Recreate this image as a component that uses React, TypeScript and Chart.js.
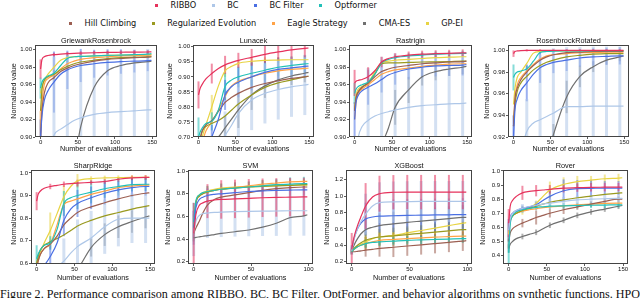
import React, { useEffect, useRef } from 'react';
import { Chart, registerables } from 'chart.js';
Chart.register(...registerables);

const SERIES = ['RIBBO', 'BC', 'BC Filter', 'Optformer', 'Hill Climbing', 'Regularized Evolution', 'Eagle Strategy', 'CMA-ES', 'GP-EI'];
const COLORS = ['#e6325c', '#aec7e8', '#4a6fe3', '#22c0b8', '#9c5f52', '#9a9a20', '#ffa347', '#707070', '#e8d443'];

const X150 = [0, 2, 5, 10, 18, 27, 36, 45, 54, 72, 90, 108, 126, 144, 149];
const X100 = [0, 2, 5, 8, 12, 18, 24, 36, 48, 60, 72, 84, 96, 99];
const ERR_X150 = [0, 18, 36, 54, 72, 90, 108, 126, 144];
const ERR_X100 = [0, 12, 24, 36, 48, 60, 72, 84, 96];
const X_TICKS_150 = [0, 50, 100, 150];
const X_TICKS_100 = [0, 50, 100];

// GriewankRosenbrock
const GR_VALUES = [
  [0.978, 0.989, 0.992, 0.9935, 0.9945, 0.995, 0.9955, 0.996, 0.9962, 0.9966, 0.997, 0.9972, 0.9974, 0.9975, 0.9976],
  [0.78, 0.80, 0.84, 0.875, 0.902, 0.909, 0.914, 0.919, 0.922, 0.926, 0.928, 0.929, 0.930, 0.931, 0.931],
  [0.90, 0.925, 0.942, 0.953, 0.963, 0.972, 0.977, 0.980, 0.982, 0.984, 0.9855, 0.9865, 0.987, 0.9875, 0.988],
  [0.956, 0.963, 0.967, 0.970, 0.973, 0.982, 0.990, 0.992, 0.9925, 0.993, 0.9935, 0.994, 0.9945, 0.995, 0.9955],
  [0.90, 0.93, 0.95, 0.962, 0.968, 0.975, 0.979, 0.982, 0.984, 0.987, 0.989, 0.990, 0.991, 0.9915, 0.992],
  [0.93, 0.955, 0.965, 0.969, 0.972, 0.977, 0.981, 0.984, 0.986, 0.988, 0.990, 0.991, 0.9915, 0.992, 0.992],
  [0.91, 0.94, 0.96, 0.967, 0.971, 0.978, 0.984, 0.987, 0.989, 0.991, 0.992, 0.993, 0.9935, 0.994, 0.994],
  [0.60, 0.62, 0.65, 0.70, 0.75, 0.80, 0.84, 0.87, 0.912, 0.957, 0.976, 0.982, 0.985, 0.9865, 0.987],
  [0.95, 0.958, 0.965, 0.972, 0.980, 0.988, 0.991, 0.992, 0.9925, 0.993, 0.9935, 0.994, 0.994, 0.9945, 0.9945],
];
const GR_ERRORS = [
  [0.011, 0.002, 0.002, 0.002, 0.002, 0.002, 0.002, 0.002, 0.002],
  [0, 0.09, 0.08, 0.075, 0.072, 0.07, 0.07, 0.07, 0.07],
  [0.02, 0.035, 0.022, 0.019, 0.016, 0.015, 0.014, 0.013, 0.012],
  [0.012, 0.004, 0.004, 0.003, 0.003, 0.003, 0.003, 0.003, 0.003],
  null, null,
  [0.02, 0.005, 0.003, 0.003, 0.003, 0.003, 0.003, 0.003, 0.003],
  null, null,
];
const GR_Y_TICKS = [0.90, 0.92, 0.94, 0.96, 0.98, 1.00];

// Lunacek
const LU_VALUES = [
  [0.84, 0.86, 0.875, 0.893, 0.911, 0.928, 0.94, 0.948, 0.955, 0.965, 0.975, 0.983, 0.99, 0.995, 0.996],
  [0.55, 0.56, 0.58, 0.61, 0.64, 0.67, 0.705, 0.74, 0.778, 0.823, 0.845, 0.858, 0.867, 0.873, 0.875],
  [0.55, 0.57, 0.60, 0.65, 0.70, 0.76, 0.84, 0.868, 0.882, 0.90, 0.915, 0.925, 0.93, 0.935, 0.936],
  [0.70, 0.715, 0.73, 0.745, 0.752, 0.79, 0.868, 0.89, 0.90, 0.912, 0.922, 0.932, 0.938, 0.943, 0.944],
  [0.66, 0.69, 0.72, 0.74, 0.755, 0.785, 0.815, 0.832, 0.845, 0.865, 0.878, 0.887, 0.895, 0.90, 0.902],
  [0.66, 0.69, 0.72, 0.735, 0.745, 0.755, 0.77, 0.79, 0.81, 0.84, 0.865, 0.88, 0.89, 0.90, 0.902],
  [0.62, 0.65, 0.68, 0.72, 0.75, 0.79, 0.835, 0.87, 0.885, 0.90, 0.912, 0.92, 0.925, 0.928, 0.929],
  [0.60, 0.61, 0.63, 0.655, 0.68, 0.70, 0.73, 0.76, 0.79, 0.84, 0.87, 0.89, 0.903, 0.912, 0.915],
  [0.65, 0.67, 0.70, 0.74, 0.80, 0.87, 0.92, 0.935, 0.945, 0.952, 0.955, 0.956, 0.957, 0.957, 0.957],
];
const LU_ERRORS = [
  [0.045, 0.033, 0.03, 0.025, 0.028, 0.028, 0.03, 0.03, 0.03],
  [0, 0.05, 0.08, 0.1, 0.1, 0.1, 0.1, 0.1, 0.1],
  [0, 0.04, 0.05, 0.05, 0.045, 0.04, 0.04, 0.035, 0.035],
  [0.065, 0.03, 0.045, 0.035, 0.04, 0.035, 0.03, 0.03, 0.03],
  null, null, null,
  [0, 0, 0.04, 0.06, 0.05, 0.04, 0.03, 0.03, 0.03],
  [0, 0.04, 0.02, 0.01, 0.01, 0.01, 0.01, 0.01, 0.01],
];
const LU_Y_TICKS = [0.70, 0.75, 0.80, 0.85, 0.90, 0.95, 1.00];

// Rastrigin
const RA_VALUES = [
  [0.962, 0.964, 0.965, 0.966, 0.969, 0.976, 0.986, 0.990, 0.992, 0.994, 0.995, 0.9955, 0.996, 0.9965, 0.9965],
  [0.86, 0.88, 0.90, 0.912, 0.919, 0.924, 0.927, 0.929, 0.931, 0.934, 0.936, 0.937, 0.938, 0.9385, 0.939],
  [0.92, 0.94, 0.948, 0.953, 0.957, 0.961, 0.966, 0.971, 0.974, 0.978, 0.980, 0.9815, 0.982, 0.9825, 0.983],
  [0.95, 0.955, 0.958, 0.960, 0.963, 0.972, 0.985, 0.989, 0.991, 0.993, 0.994, 0.995, 0.9955, 0.996, 0.996],
  [0.93, 0.945, 0.952, 0.957, 0.962, 0.969, 0.975, 0.978, 0.980, 0.982, 0.984, 0.985, 0.986, 0.9865, 0.987],
  [0.93, 0.945, 0.952, 0.957, 0.962, 0.972, 0.984, 0.985, 0.985, 0.9855, 0.986, 0.9862, 0.9865, 0.987, 0.987],
  [0.92, 0.94, 0.95, 0.955, 0.96, 0.966, 0.972, 0.975, 0.977, 0.979, 0.981, 0.9825, 0.9835, 0.984, 0.984],
  [0.80, 0.81, 0.82, 0.83, 0.845, 0.865, 0.89, 0.91, 0.934, 0.954, 0.969, 0.975, 0.978, 0.980, 0.981],
  [0.93, 0.948, 0.955, 0.958, 0.962, 0.975, 0.985, 0.987, 0.988, 0.989, 0.990, 0.991, 0.9915, 0.992, 0.992],
];
const RA_ERRORS = [
  [0.015, 0.011, 0.006, 0.004, 0.004, 0.004, 0.004, 0.004, 0.004],
  [0, 0.06, 0.065, 0.065, 0.06, 0.06, 0.06, 0.06, 0.06],
  [0.02, 0.02, 0.015, 0.014, 0.012, 0.012, 0.012, 0.012, 0.012],
  [0.012, 0.005, 0.003, 0.003, 0.003, 0.003, 0.003, 0.003, 0.003],
  null, null, null,
  [0, 0, 0, 0.02, 0.015, 0.01, 0.01, 0.008, 0.008],
  null,
];
const RA_Y_TICKS = [0.90, 0.92, 0.94, 0.96, 0.98, 1.00];

// RosenbrockRotated
const RR_VALUES = [
  [0.997, 0.999, 0.9995, 0.9998, 1.0, 1.0, 1.0, 1.0, 1.0, 1.0, 1.0, 1.0, 1.0, 1.0, 1.0],
  [0.86, 0.87, 0.885, 0.905, 0.925, 0.933, 0.936, 0.939, 0.942, 0.948, 0.948, 0.9485, 0.9485, 0.9485, 0.9485],
  [0.92, 0.945, 0.955, 0.963, 0.970, 0.978, 0.984, 0.987, 0.989, 0.991, 0.993, 0.994, 0.9945, 0.995, 0.995],
  [0.975, 0.978, 0.98, 0.981, 0.983, 0.99, 0.998, 0.999, 0.9993, 0.9995, 0.9996, 0.9997, 0.9998, 0.9998, 0.9998],
  [0.93, 0.955, 0.965, 0.973, 0.98, 0.986, 0.991, 0.994, 0.996, 0.998, 0.9985, 0.999, 0.999, 0.999, 0.999],
  [0.93, 0.95, 0.962, 0.97, 0.976, 0.982, 0.986, 0.989, 0.991, 0.994, 0.9955, 0.9965, 0.997, 0.997, 0.997],
  [0.93, 0.955, 0.968, 0.975, 0.981, 0.987, 0.992, 0.995, 0.996, 0.997, 0.998, 0.998, 0.9985, 0.9985, 0.9985],
  [0.80, 0.81, 0.82, 0.84, 0.86, 0.875, 0.89, 0.90, 0.922, 0.957, 0.976, 0.985, 0.991, 0.994, 0.995],
  [0.95, 0.965, 0.975, 0.98, 0.988, 0.9975, 0.999, 0.9995, 0.9995, 0.9995, 0.9995, 0.9995, 0.9995, 0.9995, 0.9995],
];
const RR_ERRORS = [
  [0.003, 0.001, 0.001, 0.001, 0.001, 0.001, 0.001, 0.001, 0.001],
  [0, 0.03, 0.06, 0.06, 0.055, 0.055, 0.055, 0.055, 0.055],
  [0.02, 0.017, 0.014, 0.01, 0.01, 0.008, 0.008, 0.008, 0.008],
  [0.012, 0.003, 0.001, 0.001, 0.001, 0.001, 0.001, 0.001, 0.001],
  null, null, null,
  [0, 0, 0, 0.01, 0.015, 0.01, 0.005, 0.004, 0.004],
  null,
];
const RR_Y_TICKS = [0.92, 0.94, 0.96, 0.98, 1.00];

// SharpRidge
const SR_VALUES = [
  [0.875, 0.905, 0.92, 0.932, 0.94, 0.945, 0.95, 0.953, 0.955, 0.958, 0.962, 0.972, 0.978, 0.98, 0.98],
  [0.50, 0.51, 0.52, 0.54, 0.56, 0.585, 0.61, 0.645, 0.674, 0.712, 0.762, 0.795, 0.80, 0.80, 0.80],
  [0.55, 0.56, 0.57, 0.59, 0.63, 0.69, 0.79, 0.84, 0.865, 0.89, 0.91, 0.925, 0.935, 0.94, 0.94],
  [0.62, 0.64, 0.66, 0.68, 0.69, 0.75, 0.865, 0.89, 0.90, 0.915, 0.93, 0.94, 0.948, 0.95, 0.95],
  [0.58, 0.61, 0.64, 0.665, 0.685, 0.72, 0.77, 0.80, 0.825, 0.85, 0.868, 0.885, 0.90, 0.91, 0.912],
  [0.60, 0.63, 0.66, 0.68, 0.695, 0.71, 0.725, 0.745, 0.765, 0.79, 0.81, 0.825, 0.84, 0.852, 0.855],
  [0.58, 0.61, 0.64, 0.665, 0.685, 0.77, 0.86, 0.875, 0.885, 0.905, 0.92, 0.935, 0.942, 0.946, 0.946],
  [0.45, 0.46, 0.47, 0.48, 0.50, 0.52, 0.54, 0.555, 0.575, 0.67, 0.727, 0.762, 0.785, 0.805, 0.81],
  [0.60, 0.62, 0.65, 0.69, 0.745, 0.82, 0.895, 0.94, 0.965, 0.975, 0.978, 0.979, 0.98, 0.98, 0.98],
];
const SR_ERRORS = [
  [0.04, 0.012, 0.012, 0.015, 0.01, 0.01, 0.01, 0.01, 0.01],
  [0, 0, 0.1, 0.12, 0.12, 0.12, 0.12, 0.11, 0.11],
  [0, 0.07, 0.07, 0.06, 0.05, 0.05, 0.04, 0.04, 0.04],
  [0.06, 0.03, 0.055, 0.06, 0.05, 0.04, 0.04, 0.03, 0.03],
  null, null, null,
  [0, 0, 0, 0, 0.04, 0.05, 0.05, 0.05, 0.05],
  [0, 0.08, 0.05, 0.03, 0.01, 0.01, 0.01, 0.01, 0.01],
];
const SR_Y_TICKS = [0.6, 0.7, 0.8, 0.9, 1.0];

// SVM
const SVM_VALUES = [
  [0.45, 0.62, 0.70, 0.72, 0.735, 0.745, 0.75, 0.755, 0.76, 0.765, 0.768, 0.77, 0.772, 0.772],
  [0.45, 0.56, 0.61, 0.625, 0.63, 0.635, 0.638, 0.642, 0.645, 0.647, 0.648, 0.65, 0.65, 0.65],
  [0.5, 0.68, 0.75, 0.77, 0.785, 0.795, 0.80, 0.81, 0.82, 0.825, 0.83, 0.833, 0.835, 0.835],
  [0.55, 0.74, 0.79, 0.81, 0.82, 0.83, 0.84, 0.85, 0.86, 0.87, 0.88, 0.885, 0.89, 0.89],
  [0.45, 0.50, 0.56, 0.63, 0.70, 0.75, 0.77, 0.79, 0.81, 0.83, 0.845, 0.855, 0.86, 0.86],
  [0.5, 0.72, 0.78, 0.80, 0.815, 0.83, 0.84, 0.85, 0.86, 0.865, 0.87, 0.875, 0.88, 0.88],
  [0.5, 0.72, 0.78, 0.80, 0.815, 0.83, 0.84, 0.855, 0.87, 0.885, 0.895, 0.905, 0.91, 0.91],
  [0.41, 0.415, 0.42, 0.425, 0.43, 0.44, 0.45, 0.465, 0.48, 0.505, 0.54, 0.59, 0.605, 0.615],
  [0.5, 0.73, 0.79, 0.81, 0.825, 0.84, 0.85, 0.86, 0.865, 0.87, 0.872, 0.875, 0.876, 0.876],
];
const SVM_ERRORS = [
  [0.27, 0.15, 0.17, 0.17, 0.17, 0.17, 0.17, 0.17, 0.17],
  [0.2, 0.22, 0.22, 0.22, 0.22, 0.22, 0.22, 0.22, 0.22],
  [0.15, 0.06, 0.05, 0.05, 0.05, 0.05, 0.05, 0.05, 0.05],
  [0.17, 0.05, 0.05, 0.05, 0.05, 0.05, 0.05, 0.06, 0.06],
  null, null, null, null,
  [0.12, 0.04, 0.04, 0.04, 0.04, 0.05, 0.05, 0.05, 0.05],
];
const SVM_Y_TICKS = [0.2, 0.4, 0.6, 0.8, 1.0];

// XGBoost
const XGB_VALUES = [
  [0.35, 0.50, 0.64, 0.75, 0.88, 0.99, 1.03, 1.048, 1.05, 1.05, 1.05, 1.05, 1.05, 1.05],
  [0.33, 0.47, 0.60, 0.69, 0.78, 0.88, 0.92, 0.93, 0.933, 0.935, 0.935, 0.935, 0.935, 0.935],
  [0.35, 0.48, 0.60, 0.67, 0.72, 0.745, 0.755, 0.76, 0.765, 0.767, 0.77, 0.772, 0.775, 0.775],
  [0.32, 0.35, 0.38, 0.40, 0.42, 0.435, 0.44, 0.45, 0.46, 0.465, 0.47, 0.475, 0.48, 0.48],
  [0.32, 0.32, 0.325, 0.33, 0.34, 0.35, 0.36, 0.375, 0.39, 0.405, 0.42, 0.435, 0.45, 0.455],
  [0.32, 0.36, 0.40, 0.43, 0.46, 0.485, 0.50, 0.515, 0.53, 0.545, 0.56, 0.575, 0.59, 0.59],
  [0.32, 0.35, 0.38, 0.40, 0.42, 0.44, 0.46, 0.47, 0.48, 0.49, 0.50, 0.505, 0.51, 0.51],
  [0.33, 0.40, 0.48, 0.54, 0.59, 0.62, 0.64, 0.66, 0.68, 0.695, 0.71, 0.725, 0.74, 0.74],
  [0.32, 0.35, 0.38, 0.41, 0.44, 0.48, 0.50, 0.52, 0.55, 0.58, 0.61, 0.64, 0.67, 0.675],
];
const XGB_ERRORS = [
  [0.2, 0.28, 0.22, 0.21, 0.21, 0.21, 0.21, 0.21, 0.21],
  [0.05, 0.25, 0.25, 0.25, 0.25, 0.25, 0.25, 0.25, 0.25],
  [0.05, 0.2, 0.2, 0.2, 0.2, 0.2, 0.2, 0.2, 0.2],
  [0.03, 0.05, 0.05, 0.05, 0.05, 0.05, 0.05, 0.05, 0.05],
  [0.02, 0.08, 0.1, 0.12, 0.12, 0.12, 0.12, 0.12, 0.12],
  [0.03, 0.1, 0.1, 0.1, 0.1, 0.1, 0.1, 0.1, 0.1],
  [0.03, 0.08, 0.08, 0.08, 0.08, 0.08, 0.08, 0.08, 0.08],
  [0.03, 0.15, 0.15, 0.15, 0.15, 0.15, 0.15, 0.15, 0.15],
  [0.03, 0.06, 0.06, 0.06, 0.06, 0.06, 0.06, 0.06, 0.06],
];
const XGB_Y_TICKS = [0.2, 0.4, 0.6, 0.8, 1.0, 1.2];

// Rover
const RO_VALUES = [
  [0.63, 0.75, 0.79, 0.82, 0.845, 0.855, 0.86, 0.865, 0.87, 0.878, 0.882, 0.884, 0.885, 0.886, 0.886],
  [0.58, 0.66, 0.70, 0.72, 0.735, 0.748, 0.757, 0.765, 0.772, 0.785, 0.795, 0.80, 0.803, 0.805, 0.805],
  [0.58, 0.67, 0.70, 0.72, 0.735, 0.745, 0.76, 0.79, 0.82, 0.86, 0.875, 0.877, 0.878, 0.878, 0.878],
  [0.42, 0.62, 0.68, 0.71, 0.725, 0.735, 0.742, 0.746, 0.75, 0.753, 0.755, 0.757, 0.758, 0.76, 0.76],
  [0.50, 0.56, 0.59, 0.61, 0.63, 0.65, 0.67, 0.685, 0.70, 0.725, 0.745, 0.765, 0.785, 0.80, 0.80],
  [0.58, 0.65, 0.68, 0.70, 0.72, 0.735, 0.75, 0.765, 0.778, 0.795, 0.81, 0.822, 0.834, 0.843, 0.845],
  [0.58, 0.65, 0.68, 0.70, 0.715, 0.725, 0.732, 0.74, 0.745, 0.752, 0.76, 0.765, 0.77, 0.772, 0.772],
  [0.45, 0.48, 0.50, 0.52, 0.535, 0.55, 0.565, 0.59, 0.615, 0.65, 0.685, 0.71, 0.73, 0.75, 0.755],
  [0.55, 0.64, 0.68, 0.70, 0.72, 0.74, 0.77, 0.82, 0.865, 0.905, 0.925, 0.935, 0.945, 0.95, 0.952],
];
const RO_ERRORS = [
  [0.1, 0.05, 0.04, 0.03, 0.03, 0.03, 0.03, 0.03, 0.03],
  [0.06, 0.03, 0.03, 0.03, 0.03, 0.03, 0.03, 0.03, 0.03],
  [0.08, 0.02, 0.02, 0.04, 0.08, 0.06, 0.06, 0.05, 0.05],
  [0.1, 0.02, 0.02, 0.02, 0.02, 0.02, 0.02, 0.02, 0.02],
  [0.05, 0.03, 0.05, 0.03, 0.03, 0.02, 0.02, 0.02, 0.02],
  null, null,
  [0.03, 0.02, 0.02, 0.02, 0.02, 0.02, 0.02, 0.02, 0.02],
  [0.05, 0.03, 0.02, 0.06, 0.05, 0.04, 0.03, 0.03, 0.03],
];
const RO_Y_TICKS = [0.4, 0.5, 0.6, 0.7, 0.8, 0.9, 1.0];

type PanelCfg = {
  title: string; xs: number[]; errX: number[]; xTicks: number[]; xMin: number; xMax: number;
  values: number[][]; errors: (number[] | null)[]; yTicks: number[]; yMin: number; yMax: number; dec: number;
};

const PANELS: PanelCfg[] = [
  { title: 'GriewankRosenbrock', xs: X150, errX: ERR_X150, xTicks: X_TICKS_150, xMin: -7.45, xMax: 156.45, values: GR_VALUES, errors: GR_ERRORS, yTicks: GR_Y_TICKS, yMin: 0.9, yMax: 1.0055, dec: 2 },
  { title: 'Lunacek', xs: X150, errX: ERR_X150, xTicks: X_TICKS_150, xMin: -7.45, xMax: 156.45, values: LU_VALUES, errors: LU_ERRORS, yTicks: LU_Y_TICKS, yMin: 0.70, yMax: 1.006, dec: 2 },
  { title: 'Rastrigin', xs: X150, errX: ERR_X150, xTicks: X_TICKS_150, xMin: -7.45, xMax: 156.45, values: RA_VALUES, errors: RA_ERRORS, yTicks: RA_Y_TICKS, yMin: 0.9, yMax: 1.0055, dec: 2 },
  { title: 'RosenbrockRotated', xs: X150, errX: ERR_X150, xTicks: X_TICKS_150, xMin: -7.45, xMax: 156.45, values: RR_VALUES, errors: RR_ERRORS, yTicks: RR_Y_TICKS, yMin: 0.92, yMax: 1.005, dec: 2 },
  { title: 'SharpRidge', xs: X150, errX: ERR_X150, xTicks: X_TICKS_150, xMin: -7.45, xMax: 156.45, values: SR_VALUES, errors: SR_ERRORS, yTicks: SR_Y_TICKS, yMin: 0.597, yMax: 1.013, dec: 1 },
  { title: 'SVM', xs: X100, errX: ERR_X100, xTicks: X_TICKS_100, xMin: -4.95, xMax: 103.95, values: SVM_VALUES, errors: SVM_ERRORS, yTicks: SVM_Y_TICKS, yMin: 0.18, yMax: 1.01, dec: 1 },
  { title: 'XGBoost', xs: X100, errX: ERR_X100, xTicks: X_TICKS_100, xMin: -4.95, xMax: 103.95, values: XGB_VALUES, errors: XGB_ERRORS, yTicks: XGB_Y_TICKS, yMin: 0.17, yMax: 1.32, dec: 1 },
  { title: 'Rover', xs: X150, errX: ERR_X150, xTicks: X_TICKS_150, xMin: -7.45, xMax: 156.45, values: RO_VALUES, errors: RO_ERRORS, yTicks: RO_Y_TICKS, yMin: 0.34, yMax: 1.007, dec: 1 },
];

// canvas placement: left, top, y-axis width, plot right, plot bottom, x-axis height
const LAYOUT = [
  { left: 10, top: 35, yW: 25, right: 157, bottom: 137, xH: 16 },
  { left: 166, top: 35, yW: 27, right: 314, bottom: 137, xH: 16 },
  { left: 324, top: 35, yW: 25, right: 472, bottom: 137, xH: 16 },
  { left: 483, top: 35, yW: 25, right: 629, bottom: 137, xH: 16 },
  { left: 10, top: 160, yW: 21, right: 155, bottom: 264, xH: 18 },
  { left: 164, top: 160, yW: 24, right: 313, bottom: 264, xH: 18 },
  { left: 323, top: 160, yW: 23, right: 472, bottom: 264, xH: 18 },
  { left: 479, top: 160, yW: 24, right: 628, bottom: 264, xH: 18 },
];

function alpha(hex: string, a: number) {
  const n = parseInt(hex.slice(1), 16);
  return `rgba(${(n >> 16) & 255},${(n >> 8) & 255},${n & 255},${a})`;
}

const frameAndErrors = {
  id: 'frameAndErrors',
  beforeDatasetsDraw(chart: any) {
    const { ctx, chartArea: a, scales } = chart;
    const xs = scales.x, ys = scales.y;
    ctx.save();
    ctx.beginPath();
    ctx.rect(a.left, a.top, a.right - a.left, a.bottom - a.top);
    ctx.clip();
    const dsets = chart.data.datasets;
    for (let k = dsets.length - 1; k >= 0; k--) {
      const ds: any = dsets[k];
      if (!ds.errors) continue;
      ctx.strokeStyle = alpha(ds.baseColor, k === 1 ? 0.55 : 0.55);
      ctx.lineWidth = k === 1 ? 3 : 2;
      ds.errors.forEach((e: number, i: number) => {
        if (!e) return;
        const xv = ds.errX[i];
        const pt = ds.data.find((d: any) => d.x === xv);
        if (!pt) return;
        const px = xs.getPixelForValue(xv);
        ctx.beginPath();
        ctx.moveTo(px, ys.getPixelForValue(pt.y - e));
        ctx.lineTo(px, ys.getPixelForValue(pt.y + e));
        ctx.stroke();
      });
    }
    ctx.restore();
  },
  afterDraw(chart: any) {
    const { ctx, chartArea: a } = chart;
    ctx.save();
    ctx.strokeStyle = '#444';
    ctx.lineWidth = 1;
    ctx.strokeRect(Math.round(a.left) + 0.5, Math.round(a.top) + 0.5, Math.round(a.right - a.left) - 1, Math.round(a.bottom - a.top) - 1);
    ctx.restore();
  },
};

function Panel({ p, lay }: { p: PanelCfg; lay: typeof LAYOUT[number] }) {
  const ref = useRef<HTMLCanvasElement>(null);
  const width = lay.right - lay.left + 3;
  const height = lay.bottom - lay.top + lay.xH;
  useEffect(() => {
    const datasets = p.values.map((vals, i) => ({
      label: SERIES[i],
      data: vals.map((v, j) => ({ x: p.xs[j], y: v })),
      borderColor: COLORS[i],
      backgroundColor: COLORS[i],
      baseColor: COLORS[i],
      borderWidth: 1.2,
      pointRadius: 0,
      cubicInterpolationMode: 'monotone',
      fill: false,
      errors: p.errors[i],
      errX: p.errX,
    }));
    const chart = new Chart(ref.current as HTMLCanvasElement, {
      type: 'line',
      data: { datasets } as any,
      options: {
        responsive: false,
        animation: false,
        devicePixelRatio: 1,
        events: [],
        layout: { padding: { top: 1, right: 3, left: 0, bottom: 0 } },
        plugins: {
          legend: { display: false },
          tooltip: { enabled: false },
          title: {
            display: true, text: p.title, fullSize: false, padding: 0, color: '#111',
            font: { size: 7.3, lineHeight: 9 / 7.3, weight: 'normal' },
          },
        },
        scales: {
          x: {
            type: 'linear', min: p.xMin, max: p.xMax,
            afterBuildTicks: (s: any) => { s.ticks = p.xTicks.map((v) => ({ value: v })); },
            afterFit: (s: any) => { s.height = lay.xH; s.paddingLeft = 0; s.paddingRight = 0; },
            grid: { display: true, drawOnChartArea: false, drawTicks: true, tickLength: 2, tickColor: '#333', tickWidth: 0.8 },
            border: { display: false },
            ticks: { autoSkip: false, maxRotation: 0, minRotation: 0, padding: 0, color: '#111', font: { size: 6 }, callback: (v: any) => String(v) },
            title: { display: true, text: 'Number of evaluations', padding: 0, color: '#111', font: { size: 7.2, lineHeight: 1.2 } },
          },
          y: {
            type: 'linear', min: p.yMin, max: p.yMax,
            afterBuildTicks: (s: any) => { s.ticks = p.yTicks.map((v) => ({ value: v })); },
            afterFit: (s: any) => { s.width = lay.yW; s.paddingTop = 0; s.paddingBottom = 0; },
            grid: { display: true, drawOnChartArea: false, drawTicks: true, tickLength: 2, tickColor: '#333', tickWidth: 0.8 },
            border: { display: false },
            ticks: { autoSkip: false, padding: 1, color: '#111', font: { size: 6 }, callback: (v: any) => Number(v).toFixed(p.dec) },
            title: { display: true, text: 'Normalized value', padding: 0, color: '#111', font: { size: 7.2, lineHeight: 1.2 } },
          },
        },
      } as any,
      plugins: [frameAndErrors],
    });
    return () => chart.destroy();
  }, []);
  return (
    <div style={{ position: 'absolute', left: lay.left, top: lay.top, width, height }}>
      <canvas ref={ref} width={width} height={height} style={{ display: 'block', width, height }} />
    </div>
  );
}

const LEGEND_ROW_1 = [0, 1, 2, 3];
const LEGEND_ROW_2 = [4, 5, 6, 7, 8];

function LegendRow({ items, top }: { items: number[]; top: number }) {
  return (
    <div style={{ position: 'absolute', left: 0, top, width: 532, height: 10, display: 'flex', justifyContent: 'center', alignItems: 'center' }}>
      {items.map((i, k) => (
        <div key={i} style={{ display: 'flex', alignItems: 'center', marginLeft: k === 0 ? 0 : 15.5 }}>
          <span style={{ display: 'inline-block', width: 3, height: 3, background: COLORS[i], marginRight: 12.5 }} />
          <span style={{ fontFamily: 'DejaVu Sans', fontSize: 8.2, lineHeight: '10px', color: '#111', whiteSpace: 'nowrap' }}>{SERIES[i]}</span>
        </div>
      ))}
    </div>
  );
}

export default function App() {
  return (
    <div style={{ position: 'fixed', left: 0, top: 0, width: 640, height: 298, overflow: 'hidden', background: '#fff' }}>
      <LegendRow items={LEGEND_ROW_1} top={0} />
      <LegendRow items={LEGEND_ROW_2} top={18} />
      {PANELS.map((p, i) => <Panel key={p.title} p={p} lay={LAYOUT[i]} />)}
      <div style={{ position: 'absolute', left: 0, top: 287, whiteSpace: 'nowrap', fontFamily: '"Liberation Serif", serif', fontSize: 12.1, lineHeight: '14px', color: '#111' }}>
        Figure 2. Performance comparison among RIBBO, BC, BC Filter, OptFormer, and behavior algorithms on synthetic functions. HPO
      </div>
    </div>
  );
}
